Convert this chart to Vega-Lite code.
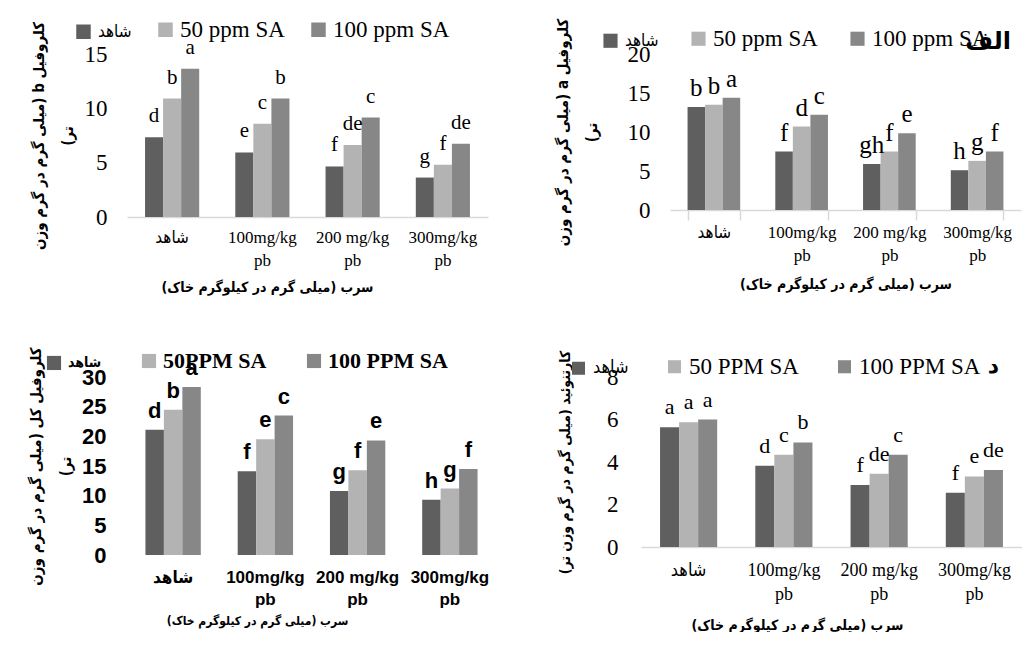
{
  "$schema": "https://vega.github.io/schema/vega-lite/v6.json",
  "background": "white",
  "padding": {"left": 28, "top": 18, "right": 0, "bottom": 0},
  "config": {
    "view": {"stroke": null},
    "font": "Liberation Serif, DejaVu Sans Condensed",
    "text": {"font": "Liberation Serif, DejaVu Sans Condensed"},
    "axis": {"grid": false, "ticks": false, "domain": false, "labelColor": "#000", "titleColor": "#000", "labelFont": "Liberation Serif, DejaVu Sans Condensed", "titleFont": "DejaVu Sans Condensed", "labelOverlap": false},
    "legend": {"padding": 0, "labelFont": "Liberation Serif, DejaVu Sans Condensed"}
  },
  "datasets": {
    "chlb": [
      {"lead": "شاهد", "sa": "شاهد", "value": 7.35, "letter": "d"},
      {"lead": "شاهد", "sa": "50 ppm SA", "value": 10.9, "letter": "b"},
      {"lead": "شاهد", "sa": "100 ppm SA", "value": 13.65, "letter": "a"},
      {"lead": "100mg/kg pb", "sa": "شاهد", "value": 5.94, "letter": "e"},
      {"lead": "100mg/kg pb", "sa": "50 ppm SA", "value": 8.58, "letter": "c"},
      {"lead": "100mg/kg pb", "sa": "100 ppm SA", "value": 10.9, "letter": "b"},
      {"lead": "200 mg/kg pb", "sa": "شاهد", "value": 4.65, "letter": "f"},
      {"lead": "200 mg/kg pb", "sa": "50 ppm SA", "value": 6.63, "letter": "de"},
      {"lead": "200 mg/kg pb", "sa": "100 ppm SA", "value": 9.15, "letter": "c"},
      {"lead": "300mg/kg pb", "sa": "شاهد", "value": 3.63, "letter": "g"},
      {"lead": "300mg/kg pb", "sa": "50 ppm SA", "value": 4.8, "letter": "f"},
      {"lead": "300mg/kg pb", "sa": "100 ppm SA", "value": 6.75, "letter": "de"}
    ],
    "chla": [
      {"lead": "شاهد", "sa": "شاهد", "value": 13.2, "letter": "b"},
      {"lead": "شاهد", "sa": "50 ppm SA", "value": 13.5, "letter": "b"},
      {"lead": "شاهد", "sa": "100 ppm SA", "value": 14.4, "letter": "a"},
      {"lead": "100mg/kg pb", "sa": "شاهد", "value": 7.5, "letter": "f"},
      {"lead": "100mg/kg pb", "sa": "50 ppm SA", "value": 10.7, "letter": "d"},
      {"lead": "100mg/kg pb", "sa": "100 ppm SA", "value": 12.2, "letter": "c"},
      {"lead": "200 mg/kg pb", "sa": "شاهد", "value": 5.9, "letter": "gh"},
      {"lead": "200 mg/kg pb", "sa": "50 ppm SA", "value": 7.5, "letter": "f"},
      {"lead": "200 mg/kg pb", "sa": "100 ppm SA", "value": 9.85, "letter": "e"},
      {"lead": "300mg/kg pb", "sa": "شاهد", "value": 5.1, "letter": "h"},
      {"lead": "300mg/kg pb", "sa": "50 ppm SA", "value": 6.3, "letter": "g"},
      {"lead": "300mg/kg pb", "sa": "100 ppm SA", "value": 7.5, "letter": "f"}
    ],
    "total": [
      {"lead": "شاهد", "sa": "شاهد", "value": 21.1, "letter": "d"},
      {"lead": "شاهد", "sa": "50PPM SA", "value": 24.5, "letter": "b"},
      {"lead": "شاهد", "sa": "100 PPM SA", "value": 28.3, "letter": "a"},
      {"lead": "100mg/kg pb", "sa": "شاهد", "value": 14.1, "letter": "f"},
      {"lead": "100mg/kg pb", "sa": "50PPM SA", "value": 19.5, "letter": "e"},
      {"lead": "100mg/kg pb", "sa": "100 PPM SA", "value": 23.5, "letter": "c"},
      {"lead": "200 mg/kg pb", "sa": "شاهد", "value": 10.8, "letter": "g"},
      {"lead": "200 mg/kg pb", "sa": "50PPM SA", "value": 14.3, "letter": "f"},
      {"lead": "200 mg/kg pb", "sa": "100 PPM SA", "value": 19.3, "letter": "e"},
      {"lead": "300mg/kg pb", "sa": "شاهد", "value": 9.3, "letter": "h"},
      {"lead": "300mg/kg pb", "sa": "50PPM SA", "value": 11.2, "letter": "g"},
      {"lead": "300mg/kg pb", "sa": "100 PPM SA", "value": 14.5, "letter": "f"}
    ],
    "car": [
      {"lead": "شاهد", "sa": "شاهد", "value": 5.64, "letter": "a"},
      {"lead": "شاهد", "sa": "50 PPM SA", "value": 5.87, "letter": "a"},
      {"lead": "شاهد", "sa": "100 PPM SA", "value": 6.0, "letter": "a"},
      {"lead": "100mg/kg pb", "sa": "شاهد", "value": 3.82, "letter": "d"},
      {"lead": "100mg/kg pb", "sa": "50 PPM SA", "value": 4.34, "letter": "c"},
      {"lead": "100mg/kg pb", "sa": "100 PPM SA", "value": 4.92, "letter": "b"},
      {"lead": "200 mg/kg pb", "sa": "شاهد", "value": 2.92, "letter": "f"},
      {"lead": "200 mg/kg pb", "sa": "50 PPM SA", "value": 3.45, "letter": "de"},
      {"lead": "200 mg/kg pb", "sa": "100 PPM SA", "value": 4.34, "letter": "c"},
      {"lead": "300mg/kg pb", "sa": "شاهد", "value": 2.55, "letter": "f"},
      {"lead": "300mg/kg pb", "sa": "50 PPM SA", "value": 3.32, "letter": "e"},
      {"lead": "300mg/kg pb", "sa": "100 PPM SA", "value": 3.62, "letter": "de"}
    ],
    "tagA": [{"lead": "300mg/kg pb", "tag": "الف"}],
    "tagD": [{"lead": "300mg/kg pb", "tag": "د"}]
  },
  "columns": 1,
  "align": "none",
  "spacing": 52,
  "resolve": {"scale": {"color": "independent", "x": "independent", "y": "independent", "xOffset": "independent"}, "legend": {"color": "independent"}},
  "concat": [
    {
      "spacing": 67,
      "resolve": {"scale": {"color": "independent", "x": "independent", "y": "independent", "xOffset": "independent"}, "legend": {"color": "independent"}},
      "hconcat": [
        {
          "width": 361, "height": 163,
          "data": {"name": "chlb"},
          "layer": [
            {
              "mark": {"type": "bar"},
              "encoding": {
                "x": {"field": "lead", "type": "nominal", "sort": ["شاهد", "100mg/kg pb", "200 mg/kg pb", "300mg/kg pb"], "scale": {"paddingInner": 0.4, "paddingOuter": 0.2},
                  "axis": {"labelAngle": 0, "domain": true, "domainColor": "#d9d9d9", "domainWidth": 1.5, "labelFontSize": 17, "labelPadding": 12, "labelLineHeight": 23,
                    "labelExpr": "datum.value == 'شاهد' ? datum.value : [replace(datum.value, ' pb', ''), 'pb']",
                    "title": "\u202bسرب (میلی گرم در کیلوگرم خاک)\u202c", "titleFontSize": 14, "titleFontWeight": "bold", "titlePadding": 12, "titleX": 140}},
                "xOffset": {"field": "sa", "type": "nominal", "sort": ["شاهد", "50 ppm SA", "100 ppm SA"]},
                "y": {"field": "value", "type": "quantitative", "scale": {"domain": [0, 15], "nice": false},
                  "axis": {"values": [0, 5, 10, 15], "tickCount": 20, "format": "d", "labelOverlap": false, "labelFontSize": 23, "labelPadding": 20,
                    "title": ["\u202bکلروفیل b (میلی گرم در گرم وزن\u202c", "\u202bتر)\u202c"], "titleFontSize": 15, "titleFontWeight": "bold", "titleLineHeight": 29, "titlePadding": 9}},
                "color": {"field": "sa", "type": "nominal", "scale": {"domain": ["شاهد", "50 ppm SA", "100 ppm SA"], "range": ["#5f5f5f", "#b3b3b3", "#878787"]},
                  "legend": {"orient": "none", "legendX": -55, "legendY": -36, "direction": "horizontal", "title": null, "symbolType": "square", "symbolSize": 210, "symbolStrokeWidth": 0, "symbolOpacity": 1, "labelFontSize": {"expr": "datum.label == 'شاهد' ? 17 : 23"}, "labelOffset": 3, "columnPadding": 22}}
              }
            },
            {
              "mark": {"type": "text", "baseline": "alphabetic", "dy": -15, "fontSize": 21},
              "encoding": {
                "x": {"field": "lead", "type": "nominal", "sort": ["شاهد", "100mg/kg pb", "200 mg/kg pb", "300mg/kg pb"]},
                "xOffset": {"field": "sa", "type": "nominal", "sort": ["شاهد", "50 ppm SA", "100 ppm SA"]},
                "y": {"field": "value", "type": "quantitative"},
                "text": {"field": "letter"}
              }
            }
          ]
        },
        {
          "width": 351, "height": 156,
          "layer": [
            {
              "data": {"name": "chla"},
              "mark": {"type": "bar"},
              "encoding": {
                "x": {"field": "lead", "type": "nominal", "sort": ["شاهد", "100mg/kg pb", "200 mg/kg pb", "300mg/kg pb"], "scale": {"paddingInner": 0.4, "paddingOuter": 0.2},
                  "axis": {"labelAngle": 0, "domain": true, "domainColor": "#d9d9d9", "domainWidth": 1.5, "ticks": true, "tickBand": "extent", "tickSize": 10, "tickColor": "#d9d9d9", "tickWidth": 1.5, "labelFontSize": 17, "labelPadding": 4, "labelLineHeight": 23,
                    "labelExpr": "!isValid(datum.value) ? '' : datum.value == 'شاهد' ? datum.value : [replace(datum.value, ' pb', ''), 'pb']",
                    "title": "\u202bسرب (میلی گرم در کیلوگرم خاک)\u202c", "titleFontSize": 14, "titleFontWeight": "bold", "titlePadding": 14}},
                "xOffset": {"field": "sa", "type": "nominal", "sort": ["شاهد", "50 ppm SA", "100 ppm SA"]},
                "y": {"field": "value", "type": "quantitative", "scale": {"domain": [0, 20], "nice": false},
                  "axis": {"values": [0, 5, 10, 15, 20], "tickCount": 20, "format": "d", "labelOverlap": false, "labelFontSize": 23, "labelPadding": 20,
                    "title": ["\u202bکلروفیل a (میلی گرم در گرم وزن\u202c", "\u202bتر)\u202c"], "titleFontSize": 15, "titleFontWeight": "bold", "titleLineHeight": 29, "titlePadding": 28}},
                "color": {"field": "sa", "type": "nominal", "scale": {"domain": ["شاهد", "50 ppm SA", "100 ppm SA"], "range": ["#5f5f5f", "#b3b3b3", "#878787"]},
                  "legend": {"orient": "none", "legendX": -71, "legendY": -27, "direction": "horizontal", "title": null, "symbolType": "square", "symbolSize": 200, "symbolStrokeWidth": 0, "symbolOpacity": 1, "labelFontSize": {"expr": "datum.label == 'شاهد' ? 17 : 23"}, "labelOffset": 3, "columnPadding": 28}}
              }
            },
            {
              "data": {"name": "chla"},
              "mark": {"type": "text", "baseline": "alphabetic", "dy": -11, "fontSize": 25},
              "encoding": {
                "x": {"field": "lead", "type": "nominal", "sort": ["شاهد", "100mg/kg pb", "200 mg/kg pb", "300mg/kg pb"]},
                "xOffset": {"field": "sa", "type": "nominal", "sort": ["شاهد", "50 ppm SA", "100 ppm SA"]},
                "y": {"field": "value", "type": "quantitative"},
                "text": {"field": "letter"}
              }
            },
            {
              "data": {"name": "tagA"},
              "mark": {"type": "text", "baseline": "middle", "align": "center", "dx": 11, "dy": -12, "fontSize": 24, "fontWeight": "bold", "font": "DejaVu Sans"},
              "encoding": {
                "x": {"field": "lead", "type": "nominal", "sort": ["شاهد", "100mg/kg pb", "200 mg/kg pb", "300mg/kg pb"]},
                "y": {"datum": 20, "type": "quantitative"},
                "text": {"field": "tag"}
              }
            }
          ]
        }
      ]
    },
    {
      "spacing": 62,
      "resolve": {"scale": {"color": "independent", "x": "independent", "y": "independent", "xOffset": "independent"}, "legend": {"color": "independent"}},
      "hconcat": [
        {
          "width": 369, "height": 178,
          "data": {"name": "total"},
          "layer": [
            {
              "mark": {"type": "bar"},
              "encoding": {
                "x": {"field": "lead", "type": "nominal", "sort": ["شاهد", "100mg/kg pb", "200 mg/kg pb", "300mg/kg pb"], "scale": {"paddingInner": 0.4, "paddingOuter": 0.2},
                  "axis": {"labelAngle": 0, "labelFont": "Liberation Sans Narrow, Liberation Sans, DejaVu Sans Condensed", "labelFontWeight": "bold", "labelFontSize": 17, "labelPadding": 14, "labelLineHeight": 22,
                    "labelExpr": "datum.value == 'شاهد' ? datum.value : [replace(datum.value, ' pb', ''), 'pb']",
                    "title": "\u202bسرب (میلی گرم در کیلوگرم خاک)\u202c", "titleFontSize": 12, "titleFontWeight": "bold", "titlePadding": 8, "titleX": 130}},
                "xOffset": {"field": "sa", "type": "nominal", "sort": ["شاهد", "50PPM SA", "100 PPM SA"]},
                "y": {"field": "value", "type": "quantitative", "scale": {"domain": [0, 30], "nice": false},
                  "axis": {"values": [0, 5, 10, 15, 20, 25, 30], "tickCount": 20, "format": "d", "labelOverlap": false, "labelFont": "Liberation Sans Narrow, Liberation Sans", "labelFontWeight": "bold", "labelFontSize": 22, "labelPadding": 21,
                    "title": ["\u202bکلروفیل کل (میلی گرم در گرم وزن\u202c", "\u202bتر)\u202c"], "titleFontSize": 15, "titleFontWeight": "bold", "titleLineHeight": 30, "titlePadding": 8}},
                "color": {"field": "sa", "type": "nominal", "scale": {"domain": ["شاهد", "50PPM SA", "100 PPM SA"], "range": ["#5f5f5f", "#b3b3b3", "#878787"]},
                  "legend": {"orient": "none", "legendX": -84, "legendY": -27, "direction": "horizontal", "title": null, "symbolType": "square", "symbolSize": 200, "symbolStrokeWidth": 0, "symbolOpacity": 1, "labelFontWeight": "bold", "labelFontSize": {"expr": "datum.label == 'شاهد' ? 14 : 22"}, "labelOffset": 3, "columnPadding": 36}}
              }
            },
            {
              "mark": {"type": "text", "baseline": "alphabetic", "dy": -12, "fontSize": 22, "fontWeight": "bold", "font": "Liberation Sans Narrow, Liberation Sans"},
              "encoding": {
                "x": {"field": "lead", "type": "nominal", "sort": ["شاهد", "100mg/kg pb", "200 mg/kg pb", "300mg/kg pb"]},
                "xOffset": {"field": "sa", "type": "nominal", "sort": ["شاهد", "50PPM SA", "100 PPM SA"]},
                "y": {"field": "value", "type": "quantitative"},
                "text": {"field": "letter"}
              }
            }
          ]
        },
        {
          "width": 381, "height": 170,
          "layer": [
            {
              "data": {"name": "car"},
              "mark": {"type": "bar"},
              "encoding": {
                "x": {"field": "lead", "type": "nominal", "sort": ["شاهد", "100mg/kg pb", "200 mg/kg pb", "300mg/kg pb"], "scale": {"paddingInner": 0.4, "paddingOuter": 0.2},
                  "axis": {"labelAngle": 0, "domain": true, "domainColor": "#d9d9d9", "domainWidth": 1.5, "labelFontSize": 18, "labelPadding": 14, "labelLineHeight": 24,
                    "labelExpr": "datum.value == 'شاهد' ? datum.value : [replace(datum.value, ' pb', ''), 'pb']",
                    "title": "\u202bسرب (میلی گرم در کیلوگرم خاک)\u202c", "titleFontSize": 14, "titleFontWeight": "bold", "titlePadding": 15, "titleX": 156}},
                "xOffset": {"field": "sa", "type": "nominal", "sort": ["شاهد", "50 PPM SA", "100 PPM SA"]},
                "y": {"field": "value", "type": "quantitative", "scale": {"domain": [0, 8], "nice": false},
                  "axis": {"values": [0, 2, 4, 6, 8], "tickCount": 20, "format": "d", "labelOverlap": false, "labelFontSize": 23, "labelPadding": 23,
                    "title": "\u202bکارتنوئید (میلی گرم در گرم وزن تر)\u202c", "titleFontSize": 14, "titleFontWeight": "bold", "titlePadding": 34}},
                "color": {"field": "sa", "type": "nominal", "scale": {"domain": ["شاهد", "50 PPM SA", "100 PPM SA"], "range": ["#5f5f5f", "#b3b3b3", "#878787"]},
                  "legend": {"orient": "none", "legendX": -74, "legendY": -22, "direction": "horizontal", "title": null, "symbolType": "square", "symbolSize": 170, "symbolStrokeWidth": 0, "symbolOpacity": 1, "labelFontSize": {"expr": "datum.label == 'شاهد' ? 18 : 23"}, "labelOffset": 3, "columnPadding": 34}}
              }
            },
            {
              "data": {"name": "car"},
              "mark": {"type": "text", "baseline": "alphabetic", "dy": -13, "fontSize": 22},
              "encoding": {
                "x": {"field": "lead", "type": "nominal", "sort": ["شاهد", "100mg/kg pb", "200 mg/kg pb", "300mg/kg pb"]},
                "xOffset": {"field": "sa", "type": "nominal", "sort": ["شاهد", "50 PPM SA", "100 PPM SA"]},
                "y": {"field": "value", "type": "quantitative"},
                "text": {"field": "letter"}
              }
            },
            {
              "data": {"name": "tagD"},
              "mark": {"type": "text", "baseline": "middle", "align": "center", "dx": 19, "dy": -11, "fontSize": 22, "fontWeight": "bold", "font": "DejaVu Sans"},
              "encoding": {
                "x": {"field": "lead", "type": "nominal", "sort": ["شاهد", "100mg/kg pb", "200 mg/kg pb", "300mg/kg pb"]},
                "y": {"datum": 8, "type": "quantitative"},
                "text": {"field": "tag"}
              }
            }
          ]
        }
      ]
    }
  ]
}
